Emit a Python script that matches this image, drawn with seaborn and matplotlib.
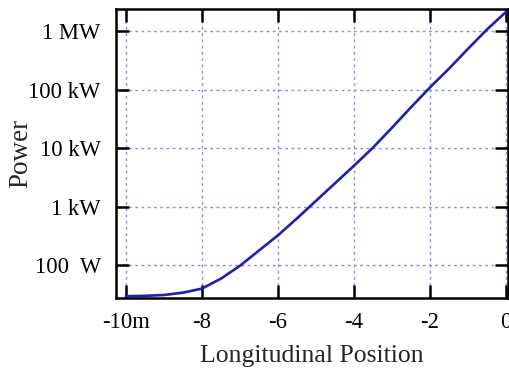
import matplotlib
matplotlib.use("Agg")
import matplotlib.pyplot as plt
import seaborn as sns
import pandas as pd

# Data
position = [-10, -9.5, -9, -8.5, -8, -7.5, -7, -6.5, -6, -5.5, -5,
            -4.5, -4, -3.5, -3, -2.5, -2, -1.5, -1, -0.5, 0]
power_w = [29.5, 29.9, 30.9, 33.9, 39.8, 58.9, 97.7, 178, 324, 631, 1259,
           2512, 5012, 10230, 22390, 50120, 109600, 229100, 501200, 1072000, 2138000]

x_ticks = [-10, -8, -6, -4, -2, 0]
x_tick_labels = ["-10m", "-8", "-6", "-4", "-2", "0"]
y_ticks = [100, 1e3, 1e4, 1e5, 1e6]
y_tick_labels = ["100  W", "1 kW", "10 kW", "100 kW", "1 MW"]

df = pd.DataFrame({"Longitudinal Position": position, "Power": power_w})

sns.set_style("ticks")
plt.rcParams["font.family"] = ["Liberation Serif", "DejaVu Serif"]

fig = plt.figure(figsize=(5.09, 3.72), dpi=100)
ax = fig.add_axes([0.228, 0.199, 0.770, 0.777])

sns.lineplot(data=df, x="Longitudinal Position", y="Power", ax=ax,
             color="#1f1fb0", linewidth=1.9)

ax.set_yscale("log")
ax.set_xlim(-10.26, 0.05)
ax.set_ylim(27.5, 2.4e6)

ax.set_xticks(x_ticks)
ax.set_xticklabels(x_tick_labels)
ax.set_yticks(y_ticks)
ax.set_yticklabels(y_tick_labels)
ax.minorticks_off()

ax.grid(True, which="major", linestyle=(0, (2, 2.5)), color="#8c8ce8", linewidth=1.0)

for s in ax.spines.values():
    s.set_visible(True)
    s.set_linewidth(1.8)
    s.set_color("black")

ax.tick_params(axis="both", which="major", direction="in", length=9.5, width=1.8,
               top=True, right=True, labelsize=16.3, colors="black")
ax.tick_params(axis="x", pad=10)
ax.tick_params(axis="y", pad=11)

ax.set_xlabel("Longitudinal Position", fontsize=18.5)
ax.set_ylabel("Power", fontsize=19.5)
ax.xaxis.set_label_coords(0.5, -0.162)
ax.yaxis.set_label_coords(-0.212, 0.5)

fig.savefig("out.png", dpi=100)
